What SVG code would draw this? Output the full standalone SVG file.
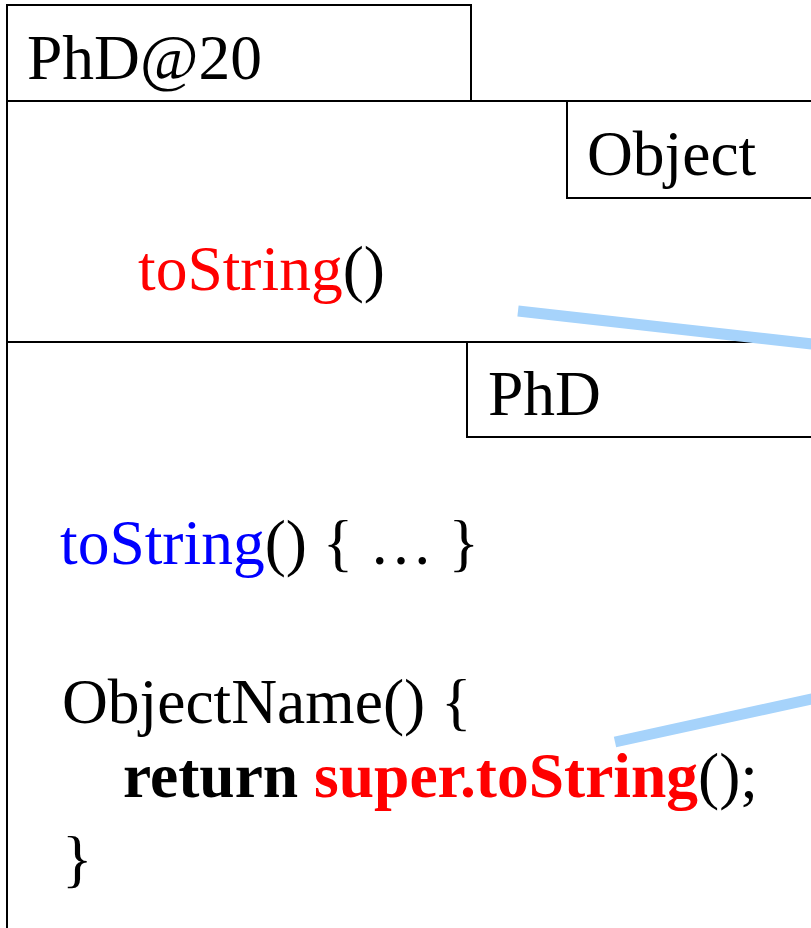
<svg xmlns="http://www.w3.org/2000/svg" width="811" height="928" viewBox="0 0 811 928">
<style>
.box{fill:none;stroke:#000;stroke-width:2}
.t{font-family:"Liberation Serif","Times New Roman",serif;font-size:63.5px;fill:#000}
.red{fill:#ff0000}
.blue{fill:#0000ff}
.b{font-weight:bold}
.link{stroke:#a6d3fb;stroke-width:11;fill:none}
</style>
<rect width="811" height="928" fill="#fff"/>
<g id="instance">
<rect class="box" x="7" y="5" width="464" height="96"/>
<text class="t" x="27" y="79">PhD@20</text>
</g>
<g id="outer">
<rect class="box" x="7" y="101" width="830" height="860"/>
<line class="box" x1="7" y1="342" x2="830" y2="342"/>
</g>
<g id="object">
<rect class="box" x="567" y="101" width="270" height="97"/>
<text class="t" x="587" y="175">Object</text>
<text class="t" x="138" y="290"><tspan class="red">toString</tspan>()</text>
</g>
<g id="phd">
<rect class="box" x="467" y="342" width="370" height="95"/>
<text class="t" x="488" y="415">PhD</text>
<text class="t" x="60" y="564"><tspan class="blue">toString</tspan>() { … }</text>
<text class="t" x="62" y="723">ObjectName() {</text>
<text class="t" x="123" y="797"><tspan class="b">return </tspan><tspan class="b red">super.toString</tspan>();</text>
<text class="t" x="62" y="880">}</text>
</g>
<g id="connectors">
<line class="link" x1="518" y1="311" x2="830" y2="346"/>
<line class="link" x1="615" y1="742" x2="830" y2="695"/>
</g>
</svg>
